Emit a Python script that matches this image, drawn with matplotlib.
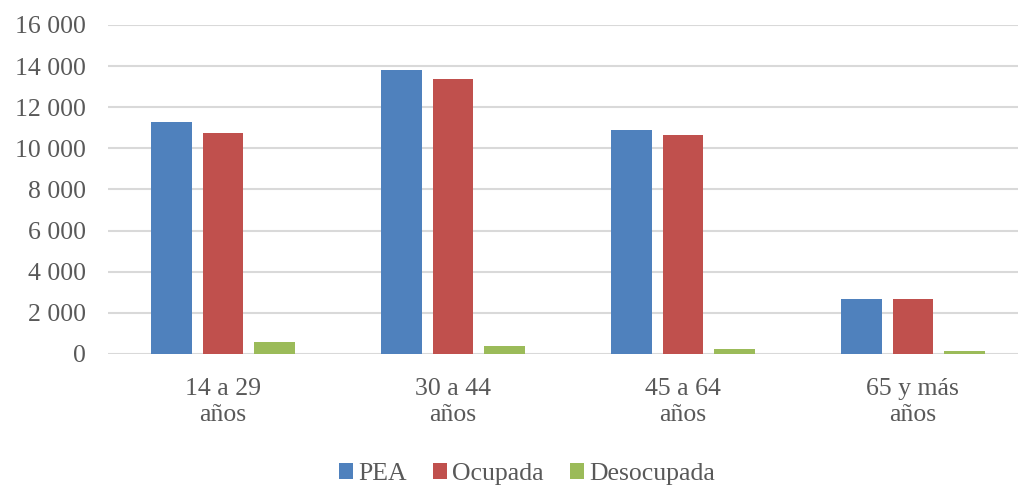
import matplotlib
matplotlib.use("Agg")
import matplotlib.pyplot as plt
import numpy as np

categories = ["14 a 29\naños", "30 a 44\naños", "45 a 64\naños", "65 y más\naños"]
series_names = ["PEA", "Ocupada", "Desocupada"]
pea = [11290, 13820, 10870, 2660]
ocupada = [10740, 13370, 10640, 2655]
desocupada = [584, 390, 260, 160]
yticks = [0, 2000, 4000, 6000, 8000, 10000, 12000, 14000, 16000]
ytick_labels = ["0", "2 000", "4 000", "6 000", "8 000", "10 000", "12 000", "14 000", "16 000"]

colors = ["#4F81BD", "#C0504D", "#9BBB59"]
text_color = "#595959"
font = "Liberation Serif"
fs = 18.5

fig = plt.figure(figsize=(10.18, 4.88), dpi=100)
ax = fig.add_axes([108 / 1018, (488 - 354) / 488, 910 / 1018, 329 / 488])

x = np.arange(len(categories))
width = 0.176
offset = 0.224
for i, (vals, name) in enumerate(zip([pea, ocupada, desocupada], series_names)):
    ax.bar(x + (i - 1) * offset, vals, width, color=colors[i], label=name, zorder=3)

ax.set_ylim(0, 16000)
ax.set_xlim(-0.5, 3.457)
ax.set_yticks(yticks)
ax.set_yticklabels(ytick_labels, fontfamily=font, fontsize=fs, color=text_color)
ax.set_xticks(x)
ax.set_xticklabels(categories, fontfamily=font, fontsize=fs, color=text_color,
                   linespacing=1.25)
ax.tick_params(axis="both", length=0)
ax.tick_params(axis="y", pad=16)
ax.tick_params(axis="x", pad=17)
ax.grid(axis="y", color="#D9D9D9", linewidth=1.5, zorder=0)
for s in ax.spines.values():
    s.set_visible(False)

leg = fig.legend(loc="center", bbox_to_anchor=(527 / 1018, 1 - 474 / 488),
                 ncol=3, frameon=False, handlelength=0.55, handleheight=0.55,
                 handletextpad=0.2, columnspacing=1.0,
                 prop={"family": font, "size": fs})
for t in leg.get_texts():
    t.set_color(text_color)

fig.savefig("out.png", dpi=100)
